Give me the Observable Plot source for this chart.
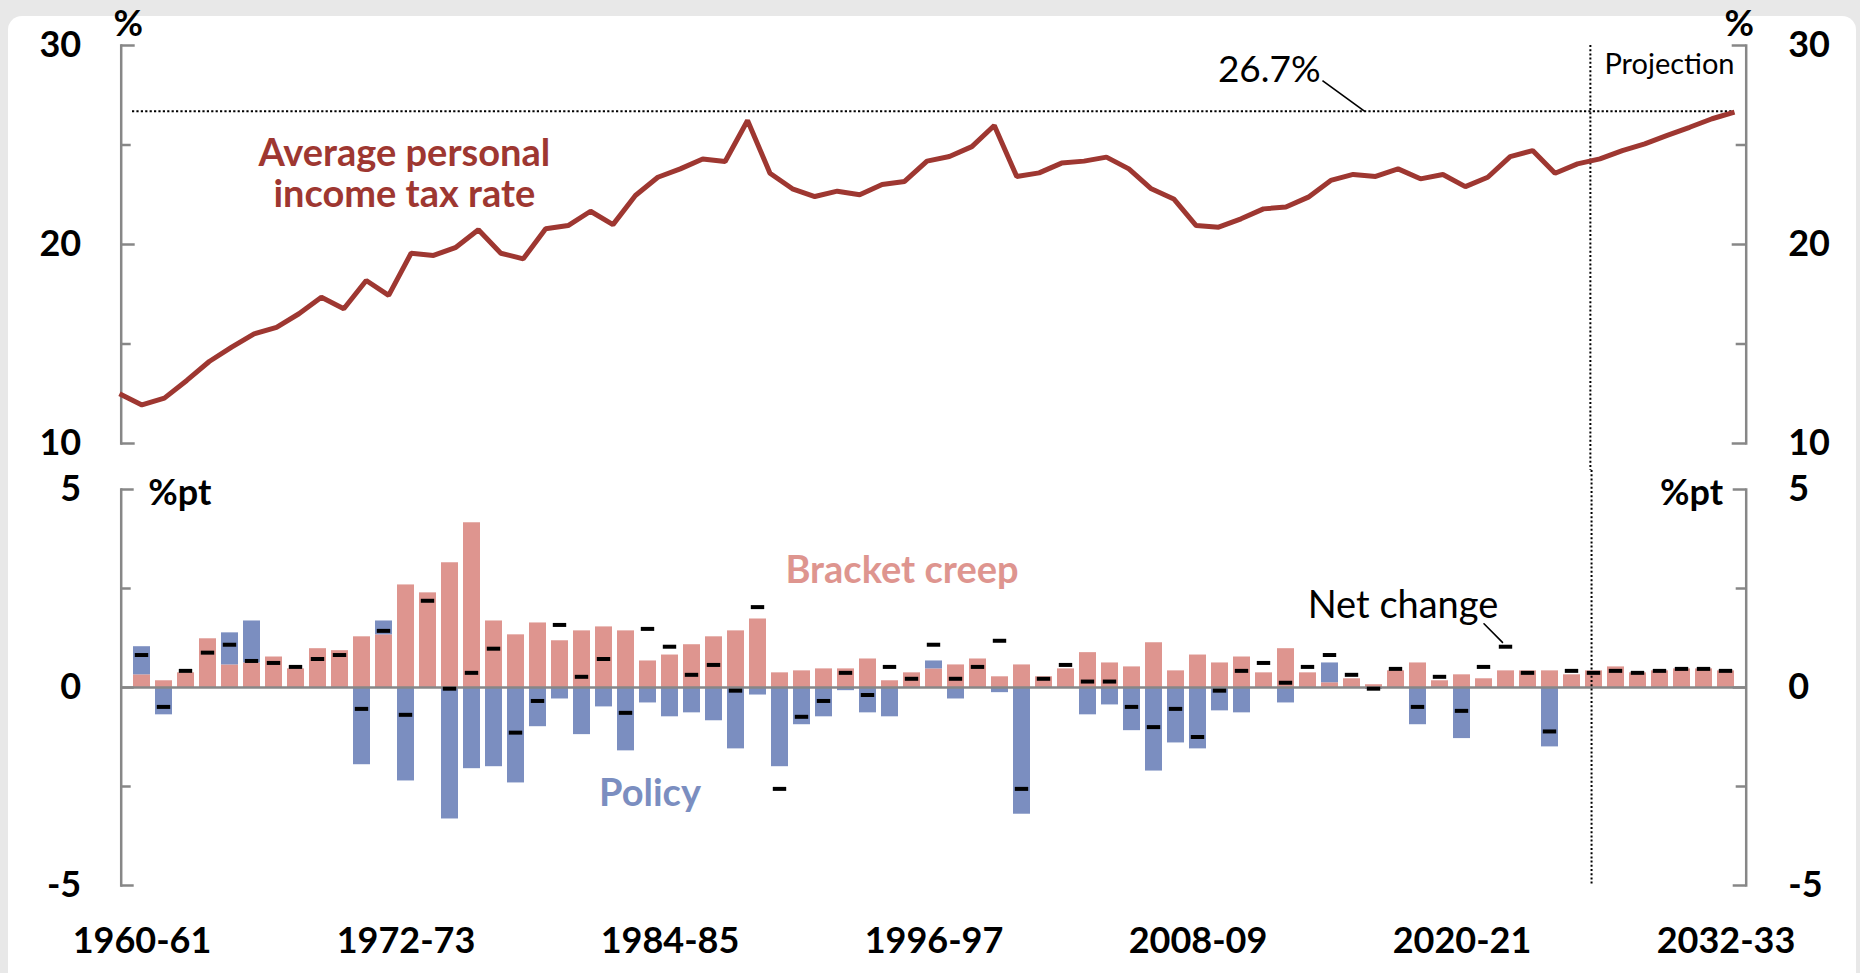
<!DOCTYPE html>
<html>
<head>
<meta charset="utf-8">
<script src="https://cdn.jsdelivr.net/npm/d3@7"></script>
<script src="https://cdn.jsdelivr.net/npm/@observablehq/plot@0.6"></script>
<style>
  html, body { margin: 0; padding: 0; background: #e8e8e8; width: 1860px; height: 973px; overflow: hidden; }
  #card { position: absolute; left: 8px; top: 16px; width: 1848px; height: 990px; background: #ffffff; border-radius: 14px; }
  #top, #bottom { position: absolute; left: 0; }
  #top { top: 0; }
  #bottom { top: 470px; }
</style>
</head>
<body>
<div id="card"></div>
<div id="top"></div>
<div id="bottom"></div>
<script>
// ---------- DATA ----------
const years = [];
for (let y = 1960; y <= 2032; y++) years.push(`${y}-${String((y + 1) % 100).padStart(2, "0")}`);

const xTickLabels = ["1960-61", "1972-73", "1984-85", "1996-97", "2008-09", "2020-21", "2032-33"];
const topTicksMajor = [10, 20, 30];
const topTicksMinor = [15, 25];
const bottomTicksMajor = [-5, 0, 5];
const bottomTicksMinor = [-2.5, 2.5];
const projectionStart = "2026-27";
const peakLabel = 26.7;

// Average personal income tax rate (%)
const taxRate = [
  12.50, 11.94, 12.28, 13.17, 14.12, 14.84, 15.51, 15.84, 16.52, 17.35,
  16.77, 18.19, 17.44, 19.56, 19.45, 19.86, 20.74, 19.56, 19.28, 20.79,
  20.95, 21.67, 21.00, 22.46, 23.38, 23.80, 24.30, 24.17, 26.23, 23.58,
  22.80, 22.41, 22.68, 22.50, 23.02, 23.17, 24.19, 24.42, 24.92, 25.98,
  23.42, 23.60, 24.09, 24.19, 24.39, 23.80, 22.80, 22.29, 20.95, 20.87,
  21.29, 21.79, 21.88, 22.38, 23.22, 23.52, 23.42, 23.80, 23.30, 23.52,
  22.91, 23.38, 24.42, 24.72, 23.58, 24.05, 24.30, 24.72, 25.06, 25.48,
  25.89, 26.32, 26.65
];

// Bracket creep contribution (%pt)
const bracketCreep = [
  0.32, 0.17, 0.37, 1.23, 0.57, 0.62, 0.77, 0.47, 0.98, 0.93,
  1.28, 1.33, 2.59, 2.39, 3.15, 4.16, 1.68, 1.33, 1.63, 1.18,
  1.43, 1.53, 1.43, 0.67, 0.82, 1.08, 1.28, 1.43, 1.73, 0.37,
  0.42, 0.47, 0.47, 0.72, 0.17, 0.37, 0.47, 0.57, 0.72, 0.27,
  0.57, 0.27, 0.47, 0.88, 0.62, 0.52, 1.13, 0.42, 0.82, 0.62,
  0.77, 0.37, 0.98, 0.37, 0.12, 0.22, 0.07, 0.42, 0.62, 0.17,
  0.32, 0.22, 0.42, 0.42, 0.42, 0.32, 0.42, 0.52, 0.37, 0.42,
  0.47, 0.47, 0.42
];

// Policy contribution (%pt)
const policy = [
  0.71, -0.69, 0, 0, 0.81, 1.06, 0, 0, 0, 0,
  -1.95, 0.35, -2.36, 0, -3.32, -2.05, -2.00, -2.41, -0.99, -0.29,
  -1.19, -0.49, -1.60, -0.39, -0.74, -0.64, -0.84, -1.55, -0.19, -2.00,
  -0.94, -0.74, -0.08, -0.64, -0.74, 0, 0.20, -0.29, 0, -0.13,
  -3.20, 0, 0, -0.69, -0.44, -1.09, -2.11, -1.40, -1.55, -0.59,
  -0.64, 0, -0.39, 0, 0.50, 0, -0.05, 0, -0.94, 0,
  -1.29, 0, 0, 0, -1.50, 0, 0, 0, 0, 0,
  0, 0, 0
];

// Net change in average rate (%pt)
const netChange = [
  0.82, -0.49, 0.42, 0.88, 1.08, 0.67, 0.62, 0.52, 0.72, 0.82,
  -0.54, 1.43, -0.69, 2.19, -0.03, 0.37, 0.98, -1.14, -0.34, 1.58,
  0.27, 0.72, -0.64, 1.48, 1.03, 0.32, 0.57, -0.08, 2.03, -2.56,
  -0.74, -0.34, 0.37, -0.19, 0.52, 0.22, 1.08, 0.22, 0.52, 1.18,
  -2.56, 0.22, 0.57, 0.15, 0.15, -0.49, -1.00, -0.54, -1.25, -0.08,
  0.42, 0.62, 0.12, 0.52, 0.82, 0.32, -0.03, 0.47, -0.49, 0.27,
  -0.59, 0.52, 1.03, 0.37, -1.11, 0.42, 0.37, 0.42, 0.37, 0.42,
  0.47, 0.47, 0.42
];

// ---------- STYLE / LAYOUT ----------
const W = 1860;
const RED = "#9e3731", PINK = "#de958f", BLUE = "#7b8ec0", GREY = "#878787";
const FONT = "Lato, 'Open Sans', sans-serif";
const FRAME_L = 120.7, FRAME_R = 1745.7;
const frameW = FRAME_R - FRAME_L;
const topX0 = 119, topX1 = 1734;                // first / last point of the line
const topStep = (topX1 - topX0) / (years.length - 1);
const PAD_INNER = 0.22;
const bandStep = frameW / years.length;
const projIdx = years.indexOf(projectionStart);
const projPx = FRAME_L + projIdx * bandStep;
const projTopX = (projPx - topX0) / topStep;
const fmt = d => `${d}`;

const rows = years.map((year, i) => ({ year, i, rate: taxRate[i], net: netChange[i] }));
const stackRows = [
  ...years.map((year, i) => ({ year, series: "Bracket creep", value: bracketCreep[i] })),
  ...years.map((year, i) => ({ year, series: "Policy", value: policy[i] }))
];

const axisStyle = { stroke: GREY, strokeWidth: 2.5 };

// ---------- TOP PANEL ----------
const topPlot = Plot.plot({
  width: W, height: 470,
  marginLeft: FRAME_L, marginRight: W - FRAME_R, marginTop: 45, marginBottom: 27,
  style: { fontFamily: FONT, background: "transparent", overflow: "visible", color: "#000" },
  x: { type: "linear", domain: [0, years.length - 1], range: [topX0, topX1], axis: null },
  y: { domain: [10, 30], axis: null },
  marks: [
    Plot.frame({ anchor: "left", ...axisStyle }),
    Plot.frame({ anchor: "right", ...axisStyle }),
    Plot.tickY(topTicksMajor, { y: d => d, ...axisStyle, insetRight: frameW - 14 }),
    Plot.tickY(topTicksMinor, { y: d => d, ...axisStyle, insetRight: frameW - 10 }),
    Plot.tickY(topTicksMajor, { y: d => d, ...axisStyle, insetLeft: frameW - 14 }),
    Plot.tickY(topTicksMinor, { y: d => d, ...axisStyle, insetLeft: frameW - 10 }),
    Plot.axisY({ anchor: "left", ticks: topTicksMajor, tickFormat: fmt, tickSize: 0, tickPadding: 40, fontSize: 36, fontWeight: "bold", label: null }),
    Plot.axisY({ anchor: "right", ticks: topTicksMajor, tickFormat: fmt, tickSize: 0, tickPadding: 42, fontSize: 36, fontWeight: "bold", label: null }),
    Plot.text(["%"], { frameAnchor: "top-left", dx: 7, dy: -10, lineAnchor: "bottom", textAnchor: "middle", fontSize: 36, fontWeight: "bold" }),
    Plot.text(["%"], { frameAnchor: "top-right", dx: -7, dy: -10, lineAnchor: "bottom", textAnchor: "middle", fontSize: 36, fontWeight: "bold" }),
    // projection divider
    Plot.ruleX([projTopX], { x: d => d, stroke: "#000", strokeWidth: 2, strokeDasharray: "2,2.2", insetBottom: -27 }),
    // 26.7% reference
    Plot.ruleY([peakLabel], { y: d => d, x1: 0, x2: years.length - 1, insetLeft: 13, stroke: "#000", strokeWidth: 2, strokeDasharray: "2.2,2.2" }),
    Plot.link([{ x1: 53.63, y1: 28.24, x2: 55.5, y2: peakLabel }], { x1: "x1", y1: "y1", x2: "x2", y2: "y2", stroke: "#000", strokeWidth: 1.6 }),
    Plot.text([{ x: 53.55, y: 28.19, t: `${peakLabel}%` }], { x: "x", y: "y", text: "t", textAnchor: "end", lineAnchor: "bottom", fontSize: 37 }),
    Plot.text([{ x: 66.2, y: 28.59, t: "Projection" }], { x: "x", y: "y", text: "t", textAnchor: "start", lineAnchor: "bottom", fontSize: 29 }),
    // series
    Plot.line(rows, { x: "i", y: "rate", stroke: RED, strokeWidth: 5, strokeLinejoin: "miter", strokeLinecap: "butt" }),
    Plot.text([{ x: 12.7, y: 21.86, t: "Average personal\nincome tax rate" }], { x: "x", y: "y", text: "t", textAnchor: "middle", lineAnchor: "bottom", lineHeight: 1.1, fontSize: 38, fontWeight: "bold", fill: RED })
  ]
});
document.getElementById("top").appendChild(topPlot);

// ---------- BOTTOM PANEL ----------
const bottomPlot = Plot.plot({
  width: W, height: 503,
  marginLeft: FRAME_L, marginRight: W - FRAME_R, marginTop: 19, marginBottom: 88,
  style: { fontFamily: FONT, background: "transparent", overflow: "visible", color: "#000" },
  x: { type: "band", domain: years, paddingInner: PAD_INNER, paddingOuter: PAD_INNER / 2, axis: null },
  y: { domain: [-5, 5], axis: null },
  color: { domain: ["Bracket creep", "Policy"], range: [PINK, BLUE] },
  marks: [
    Plot.barY(stackRows, { x: "year", y: "value", fill: "series", order: ["Bracket creep", "Policy"] }),
    Plot.ruleY([0], { y: d => d, ...axisStyle }),
    Plot.frame({ anchor: "left", ...axisStyle }),
    Plot.frame({ anchor: "right", ...axisStyle }),
    Plot.tickY(bottomTicksMajor, { y: d => d, ...axisStyle, insetRight: frameW - 13 }),
    Plot.tickY(bottomTicksMinor, { y: d => d, ...axisStyle, insetRight: frameW - 10 }),
    Plot.tickY(bottomTicksMajor, { y: d => d, ...axisStyle, insetLeft: frameW - 13 }),
    Plot.tickY(bottomTicksMinor, { y: d => d, ...axisStyle, insetLeft: frameW - 10 }),
    Plot.axisY({ anchor: "left", ticks: bottomTicksMajor, tickFormat: fmt, tickSize: 0, tickPadding: 40, fontSize: 36, fontWeight: "bold", label: null }),
    Plot.axisY({ anchor: "right", ticks: bottomTicksMajor, tickFormat: fmt, tickSize: 0, tickPadding: 42, fontSize: 36, fontWeight: "bold", label: null }),
    Plot.axisX({ ticks: xTickLabels, tickSize: 0, tickPadding: 42, fontSize: 36, fontWeight: "bold", label: null }),
    Plot.text(["%pt"], { frameAnchor: "top-left", dx: 27, dy: 15, lineAnchor: "bottom", textAnchor: "start", fontSize: 36, fontWeight: "bold" }),
    Plot.text(["%pt"], { frameAnchor: "top-right", dx: -23, dy: 15, lineAnchor: "bottom", textAnchor: "end", fontSize: 36, fontWeight: "bold" }),
    // projection divider (ruleX sits at the band start; shift back by half the inner gap)
    Plot.ruleX([projectionStart], { x: d => d, dx: -bandStep * PAD_INNER / 2, stroke: "#000", strokeWidth: 2, strokeDasharray: "2,2.2", insetTop: -19 }),
    // net change markers
    Plot.tickY(rows, { x: "year", y: "net", stroke: "#000", strokeWidth: 4, insetLeft: 1.8, insetRight: 1.8 }),
    // labels
    Plot.text([{ x: "1995-96", y: 2.95, t: "Bracket creep" }], { x: "x", y: "y", text: "t", dx: -10, textAnchor: "middle", lineAnchor: "middle", fontSize: 38, fontWeight: "bold", fill: PINK }),
    Plot.text([{ x: "1983-84", y: -2.99, t: "Policy" }], { x: "x", y: "y", text: "t", dx: 2, textAnchor: "middle", lineAnchor: "bottom", fontSize: 38, fontWeight: "bold", fill: BLUE }),
    Plot.text([{ x: "2017-18", y: 1.76, t: "Net change" }], { x: "x", y: "y", text: "t", dx: 7, textAnchor: "middle", lineAnchor: "bottom", fontSize: 38, fill: "#000" }),
    Plot.arrow([{ x1: "2021-22", y1: 1.61, x2: "2022-23", y2: 1.05 }], { x1: "x1", y1: "y1", x2: "x2", y2: "y2", headLength: 0, insetEnd: 5, stroke: "#000", strokeWidth: 1.6 })
  ]
});
document.getElementById("bottom").appendChild(bottomPlot);
</script>
</body>
</html>
